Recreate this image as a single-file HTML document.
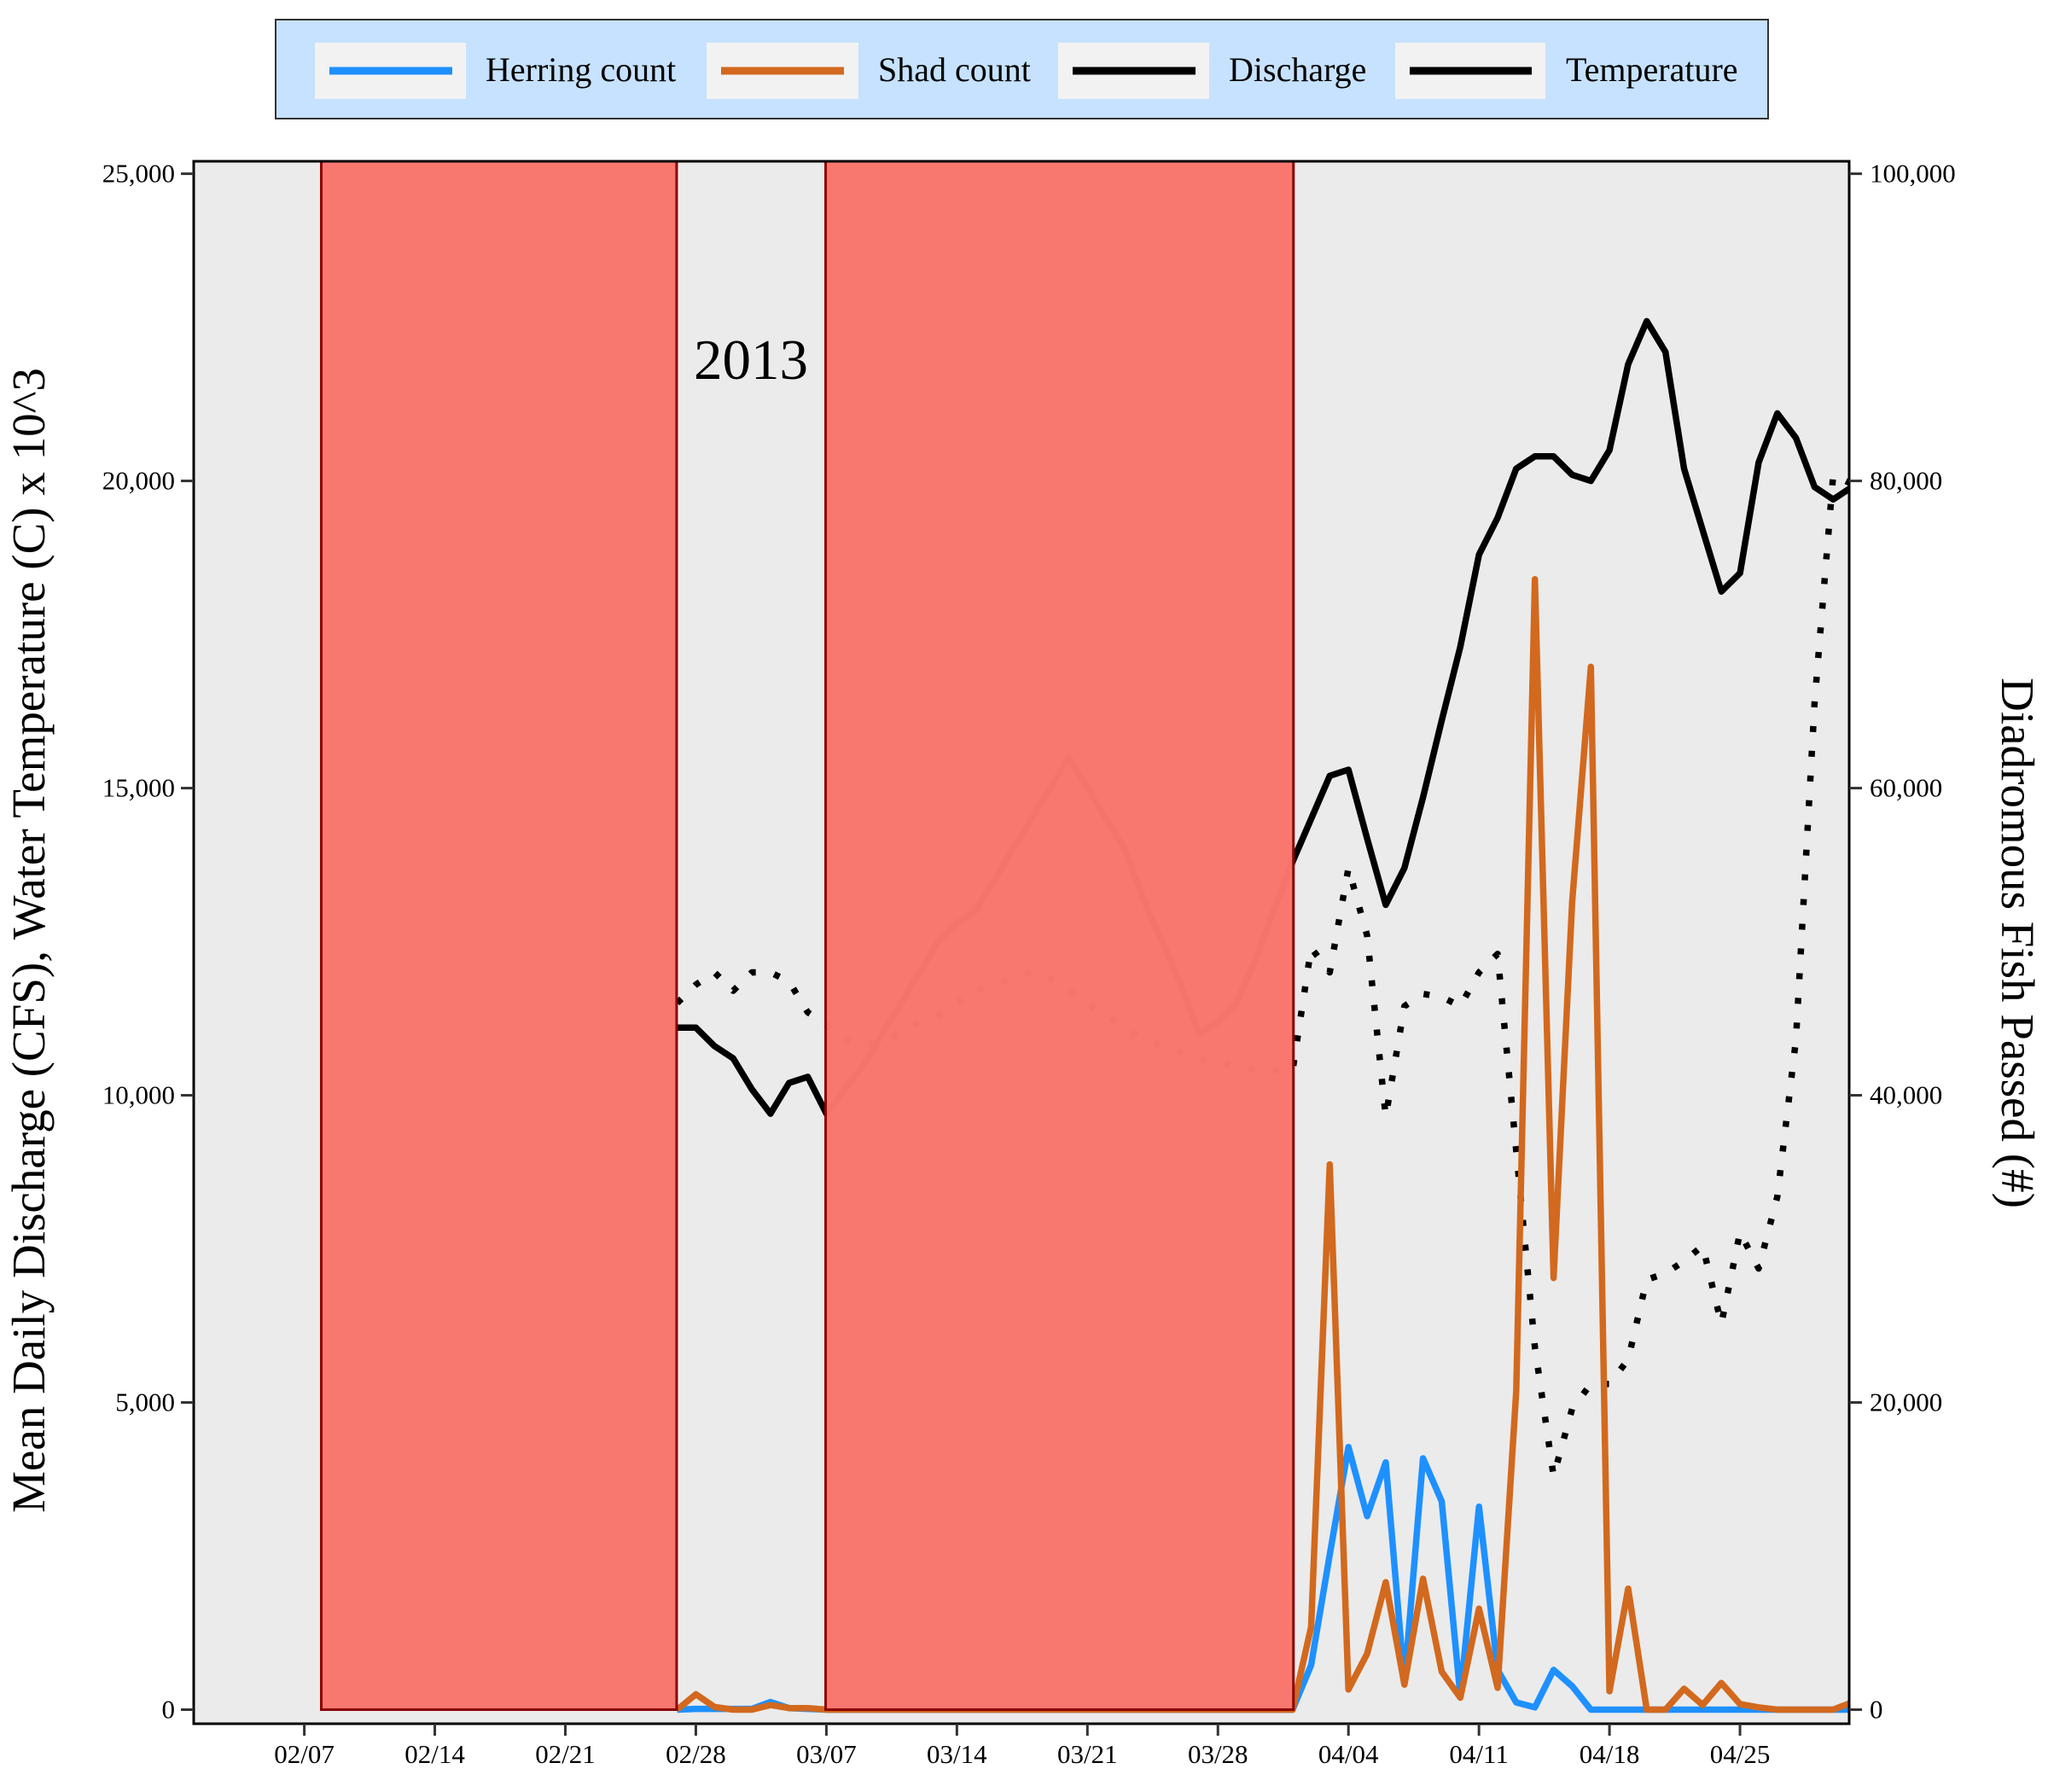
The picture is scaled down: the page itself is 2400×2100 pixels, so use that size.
<!DOCTYPE html>
<html><head><meta charset="utf-8"><style>
html,body{margin:0;padding:0;background:#fff}
svg{display:block;font-family:"Liberation Serif",serif}
</style></head><body>
<svg id="chart" width="2400" height="2100" viewBox="0 0 2400 2100" xmlns="http://www.w3.org/2000/svg">
<g id="legend">
<rect x="323" y="23" width="1749" height="116" fill="#C6E2FF" stroke="#333" stroke-width="2"/>
<g><rect x="369" y="50" width="177" height="66" fill="#F2F2F2"/><line x1="386" y1="83" x2="530" y2="83" stroke="#1E90FF" stroke-width="9"/><text x="569" y="95" font-size="40">Herring count</text></g>
<g><rect x="828" y="50" width="178" height="66" fill="#F2F2F2"/><line x1="845" y1="83" x2="989" y2="83" stroke="#D2691E" stroke-width="9"/><text x="1029" y="95" font-size="40">Shad count</text></g>
<g><rect x="1240" y="50" width="177" height="66" fill="#F2F2F2"/><line x1="1257" y1="83" x2="1401" y2="83" stroke="#000" stroke-width="9"/><text x="1440" y="95" font-size="40">Discharge</text></g>
<g><rect x="1635" y="50" width="176" height="66" fill="#F2F2F2"/><line x1="1652" y1="83" x2="1795" y2="83" stroke="#000" stroke-width="9"/><text x="1835" y="95" font-size="40">Temperature</text></g>
</g>
<rect x="227" y="189" width="1940" height="1831" fill="#EBEBEB"/>
<g id="marks"></g>
<rect x="227" y="189" width="1940" height="1831" fill="none" stroke="#000" stroke-width="3"/>
<g id="axes"></g>
<text x="880" y="444" font-size="67" text-anchor="middle">2013</text>
<text transform="translate(52,1102) rotate(-90)" font-size="55" text-anchor="middle">Mean Daily Discharge (CFS), Water Temperature (C) x 10^3</text>
<text transform="translate(2346,1105) rotate(90)" font-size="55" text-anchor="middle">Diadromous Fish Passed (#)</text>
</svg>
<script>
// day index: 0 = 02/07/2013
const xTickLabels = ["02/07","02/14","02/21","02/28","03/07","03/14","03/21","03/28","04/04","04/11","04/18","04/25"];
const leftTicks = [0,5000,10000,15000,20000,25000];
const rightTicks = [0,20000,40000,60000,80000,100000];
const startDay = 20;
const discharge = [11100,11100,10800,10600,10100,9700,10200,10300,9700,10100,10500,11000,11500,12000,12500,12800,13000,13500,14000,14500,15000,15500,15000,14500,14000,13200,12500,11800,11000,11200,11500,12200,13000,13800,14500,15200,15300,14180,13100,13700,14850,16100,17300,18800,19400,20200,20400,20400,20100,20000,20500,21900,22600,22100,20200,19200,18200,18500,20300,21100,20700,19900,19700,19900];
const temperature = [11500,11800,12000,11700,12000,12000,11850,11350,11150,10900,10800,10900,11000,11200,11300,11500,11700,11800,11900,12000,11900,11700,11500,11300,11100,10900,10800,10700,10600,10500,10500,10400,10400,10400,12400,12000,13700,12600,9650,11450,11650,11600,11450,12000,12300,9100,5900,3800,4900,5300,5300,5700,7000,7100,7300,7550,6280,7770,7180,8350,10900,16400,20100,19950];
const herring = [0,50,50,50,50,500,100,50,0,0,0,0,0,0,0,0,0,0,0,0,0,0,0,0,0,0,0,0,0,0,0,0,0,0,2900,10100,17100,12600,16100,1740,16360,13560,890,13220,2590,470,150,2590,1530,0,0,0,0,0,0,0,0,0,0,0,0,0,0,0];
const shad = [0,1000,170,0,0,300,100,100,0,0,0,0,0,0,0,0,0,0,0,0,0,0,0,0,0,0,0,0,0,0,0,0,0,0,5400,35500,1310,3640,8300,1630,8520,2480,780,6570,1420,20700,73600,28100,52600,67900,1200,7880,0,0,1360,300,1740,360,150,0,0,0,0,470];
const closures = [[0.91,19.97],[27.96,53.05]];

const NS="http://www.w3.org/2000/svg";
const X0=356.6, PXD=21.85, YB=2003.5, YT=203.6;
const xs=d=>X0+d*PXD;
const yl=v=>YB-(v/25000)*(YB-YT);
const yr=v=>YB-(v/100000)*(YB-YT);
function mk(t,a,p){const e=document.createElementNS(NS,t);for(const k in a)e.setAttribute(k,a[k]);p.appendChild(e);return e;}
const marks=document.getElementById('marks'), axes=document.getElementById('axes');
function line(arr,yf,color,name,dash){
  const pts=arr.map((v,i)=>xs(startDay+i).toFixed(1)+','+yf(v).toFixed(1)).join(' ');
  const a={points:pts,fill:'none',stroke:color,'stroke-width':7.5,'stroke-linejoin':'round'};
  if(dash){a['stroke-dasharray']='7 22';}
  const e=mk('polyline',a,marks);
  
  
}
const cp=mk('clipPath',{id:'cp'},marks);mk('rect',{x:227,y:189,width:1940,height:1831},cp);
marks.setAttribute('clip-path','url(#cp)');
line(discharge,yl,'#000','discharge-line');
line(temperature,yl,'#000','temperature-line',true);
line(herring,yr,'#1E90FF','herring-line');
line(shad,yr,'#D2691E','shad-line');
closures.forEach((c,i)=>{
  const r=mk('rect',{x:xs(c[0]),y:150,width:xs(c[1])-xs(c[0]),height:YB-150,fill:'#F8766D','fill-opacity':0.985,stroke:'#8B0000','stroke-width':3},marks);
  
  
});
xTickLabels.forEach((l,i)=>{
  const x=xs(i*7);
  mk('line',{x1:x,y1:2020,x2:x,y2:2034,stroke:'#333','stroke-width':3},axes);
  const t=mk('text',{x:x,y:2066,'font-size':31,'text-anchor':'middle'},axes);t.textContent=l;
  
  
});
leftTicks.forEach(v=>{
  const y=yl(v);
  mk('line',{x1:212,y1:y,x2:227,y2:y,stroke:'#333','stroke-width':3},axes);
  const t=mk('text',{x:205,y:y+10,'font-size':31,'text-anchor':'end'},axes);t.textContent=v.toLocaleString('en-US');
  
  
});
rightTicks.forEach(v=>{
  const y=yr(v);
  mk('line',{x1:2167,y1:y,x2:2182,y2:y,stroke:'#333','stroke-width':3},axes);
  const t=mk('text',{x:2191,y:y+10,'font-size':31,'text-anchor':'start'},axes);t.textContent=v.toLocaleString('en-US');
  
  
});
</script>
</body></html>
